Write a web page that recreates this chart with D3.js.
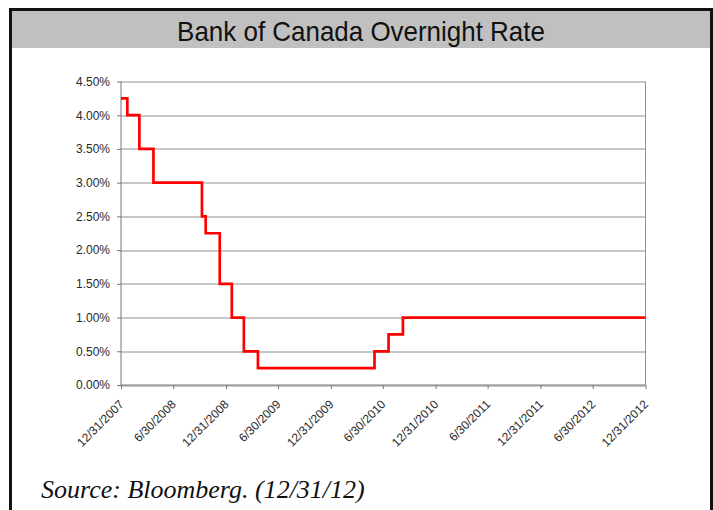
<!DOCTYPE html>
<html>
<head>
<meta charset="utf-8">
<script src="https://cdn.jsdelivr.net/npm/d3@7"></script>
<style>
    body { margin: 0; background: #fff; }
    svg { display: block; }
    .tick text { font-family: "Liberation Sans", Arial, sans-serif; fill: #2a2a2a; }
</style>
</head>
<body>
<div id="chart"></div>
<script>
// Data
const rateDates = ['2007-12-31', '2008-01-22', '2008-03-04', '2008-04-22', '2008-10-08',
    '2008-10-21', '2008-12-09', '2009-01-20', '2009-03-03', '2009-04-21',
    '2010-06-01', '2010-07-20', '2010-09-08', '2012-12-31'];
const rateValues = [4.25, 4.00, 3.50, 3.00, 2.50, 2.25, 1.50, 1.00, 0.50, 0.25, 0.50, 0.75, 1.00, 1.00];

const xTickLabels = ['12/31/2007', '6/30/2008', '12/31/2008', '6/30/2009', '12/31/2009', '6/30/2010',
    '12/31/2010', '6/30/2011', '12/31/2011', '6/30/2012', '12/31/2012'];
const yTickValues = [0, 0.5, 1, 1.5, 2, 2.5, 3, 3.5, 4, 4.5];

const titleText = 'Bank of Canada Overnight Rate';
const sourceText = 'Source: Bloomberg. (12/31/12)';

function draw() {
    const parseDate = d3.timeParse('%Y-%m-%d');
    const parseTick = d3.timeParse('%m/%d/%Y');

    const dataSet = rateDates.map((d, i) => ({ date: parseDate(d), rate: rateValues[i] }));
    const xAccessor = d => d.date;
    const yAccessor = d => d.rate;

    // Dimensions
    let dimensions = {
        width: 713,
        height: 510,
        margin: { top: 81.5, bottom: 125, left: 121, right: 67.5 }
    };
    dimensions.ctrWidth = dimensions.width - dimensions.margin.left - dimensions.margin.right;
    dimensions.ctrHeight = dimensions.height - dimensions.margin.top - dimensions.margin.bottom;

    // Scales
    const xScale = d3.scaleTime()
        .domain([parseTick(xTickLabels[0]), parseTick(xTickLabels[xTickLabels.length - 1])])
        .range([0, dimensions.ctrWidth]);

    const yScale = d3.scaleLinear()
        .domain([0, 4.5])
        .range([dimensions.ctrHeight, 0]);

    // Draw Image
    const svg = d3.select('#chart')
        .append('svg')
        .attr('width', dimensions.width)
        .attr('height', dimensions.height);

    // frame + title band
    svg.append('rect')
        .attr('x', 12).attr('y', 11)
        .attr('width', 698).attr('height', 37)
        .attr('fill', '#c0c0c0');

    svg.append('path')
        .attr('d', 'M10.5,520 V9.5 H711.5 V520')
        .attr('fill', 'none')
        .attr('stroke', '#111')
        .attr('stroke-width', 3);

    // narrow title: squeeze Liberation Sans to the width of the original
    const title = svg.append('text')
        .attr('text-anchor', 'middle')
        .style('font-family', '"Liberation Sans", Arial, sans-serif')
        .style('font-size', '27px')
        .attr('fill', '#111')
        .text(titleText);
    const titleScale = 368 / title.node().getComputedTextLength();
    title.attr('transform', `translate(361,41) scale(${titleScale},1)`);

    const ctr = svg.append('g')
        .attr('transform', `translate(${dimensions.margin.left},${dimensions.margin.top})`);

    // Gridlines
    ctr.append('g')
        .selectAll('line')
        .data(yTickValues)
        .join('line')
        .attr('x1', 0)
        .attr('x2', dimensions.ctrWidth)
        .attr('y1', d => Math.round(yScale(d)) + 0.5)
        .attr('y2', d => Math.round(yScale(d)) + 0.5)
        .attr('stroke', '#909090')
        .attr('stroke-width', 1);

    ctr.append('line')
        .attr('x1', dimensions.ctrWidth).attr('x2', dimensions.ctrWidth)
        .attr('y1', 0).attr('y2', dimensions.ctrHeight)
        .attr('stroke', '#909090');

    // Axes
    const yAxis = d3.axisLeft(yScale)
        .tickValues(yTickValues)
        .tickSize(4)
        .tickPadding(7)
        .tickFormat(d => d3.format('.2f')(d) + '%');

    const yAxisGroup = ctr.append('g')
        .call(yAxis);
    yAxisGroup.select('.domain').attr('stroke', '#777').attr('d', `M0,0V${dimensions.ctrHeight}`);
    yAxisGroup.selectAll('.tick line').attr('stroke', '#777');
    yAxisGroup.selectAll('.tick text').style('font-size', '12px');

    const xAxis = d3.axisBottom(xScale)
        .tickValues(xTickLabels.map(parseTick))
        .tickSize(4)
        .tickFormat(d3.timeFormat('%-m/%-d/%Y'));

    const xAxisGroup = ctr.append('g')
        .call(xAxis)
        .attr('transform', `translate(0,${dimensions.ctrHeight})`);
    xAxisGroup.select('.domain').attr('stroke', '#777').attr('d', `M0,0H${dimensions.ctrWidth}`);
    xAxisGroup.selectAll('.tick line').attr('stroke', '#777');
    xAxisGroup.selectAll('.tick text')
        .style('font-size', '12px')
        .attr('text-anchor', 'end')
        .attr('dy', null)
        .attr('y', null)
        .attr('transform', 'translate(3,20) rotate(-45)');

    // Line
    const lineGenerator = d3.line()
        .x(d => xScale(xAccessor(d)))
        .y(d => yScale(yAccessor(d)))
        .curve(d3.curveStepAfter);

    ctr.append('path')
        .datum(dataSet)
        .attr('d', lineGenerator)
        .attr('fill', 'none')
        .attr('stroke', '#ff0000')
        .attr('stroke-width', 2.7);

    // Source note
    svg.append('text')
        .attr('x', 41)
        .attr('y', 498)
        .style('font-family', '"Liberation Serif", "Times New Roman", serif')
        .style('font-style', 'italic')
        .style('font-size', '26px')
        .attr('fill', '#111')
        .text(sourceText);
}

draw();
</script>
</body>
</html>
